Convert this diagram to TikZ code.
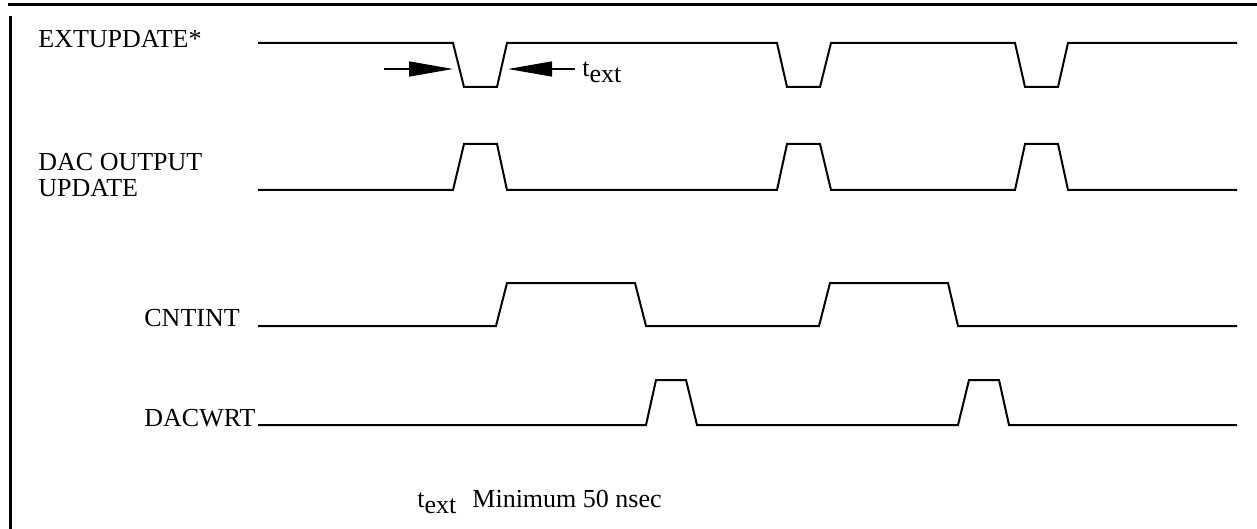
\documentclass[tikz,border=0pt]{standalone}
\usepackage{fontspec}
\setmainfont{Liberation Serif}
\usetikzlibrary{arrows.meta}

\tikzset{
  wave/.style={black, line width=1pt, line join=miter},
  frame/.style={black, line width=1.5pt},
  dim/.style={black, line width=0.7pt, -{Triangle[length=22pt,width=7.5pt]}},
  sig/.style={font=\fontsize{13}{13}\selectfont, inner sep=0pt},
}
\newcommand{\tx}{t\lower3pt\hbox{ext}}

\begin{document}
\begin{tikzpicture}[x=0.5pt, y=-0.5pt]
\useasboundingbox (0,0) rectangle (1257,529);

% frame
\draw [frame] (8,5) -- (1257,5);
\draw [frame] (10,16) -- (10,529);

% signal names
\node (extupdate) at (38,39) [sig, anchor=west] {EXTUPDATE*};
\node (dacout) at (38,175) [sig, anchor=west, align=left] {DAC OUTPUT\\UPDATE};
\node (cntint) at (144,318) [sig, anchor=west] {CNTINT};
\node (dacwrt) at (144,418) [sig, anchor=west] {DACWRT};

% waveforms
\draw [wave] (258,43) -- (453,43) -- (464,87) -- (497,87) -- (507,43) -- (777,43) -- (787,87) -- (820,87) -- (831,43) -- (1015,43) -- (1025,87) -- (1058,87) -- (1068,43) -- (1237,43);

\draw [wave] (258,190) -- (453,190) -- (464,144) -- (497,144) -- (507,190) -- (777,190) -- (787,144) -- (820,144) -- (831,190) -- (1015,190) -- (1025,144) -- (1058,144) -- (1068,190) -- (1237,190);

\draw [wave] (258,326) -- (496,326) -- (507,283) -- (635,283) -- (646,326) -- (819,326) -- (830,283) -- (948,283) -- (958,326) -- (1237,326);

\draw [wave] (258,425) -- (646,425) -- (656,380) -- (686,380) -- (697,425) -- (958,425) -- (969,380) -- (999,380) -- (1009,425) -- (1237,425);

% pulse width marks
\coordinate (la) at (384,69);
\coordinate (lb) at (453,69);
\coordinate (ra) at (575,69);
\coordinate (rb) at (508,69);
\draw [dim] (la) -- (lb);
\draw [dim] (ra) -- (rb);
\node (text) at (582,77) [sig, anchor=base west] {\tx};

% note
\node (textnote) at (417,507) [sig, anchor=base west] {\tx};
\node (minnote) at (472,507) [sig, anchor=base west] {Minimum 50 nsec};

\end{tikzpicture}
\end{document}
